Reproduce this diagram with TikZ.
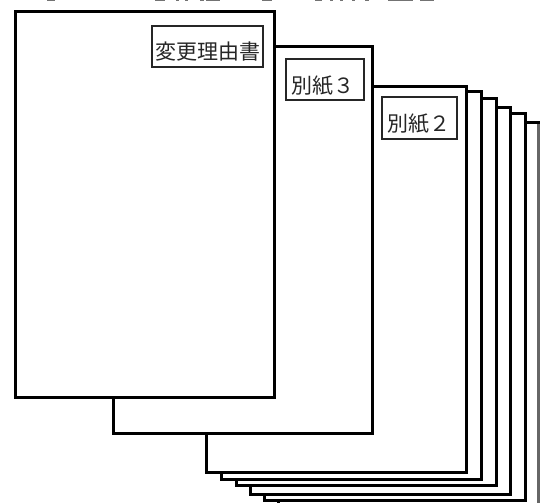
\documentclass[tikz,border=0pt]{standalone}
\usepackage{fontspec}
\newfontfamily\jpfont{Noto Sans CJK JP}[Scale=1]
\tikzset{
  sheet/.style={draw=black,fill=white,line width=3pt,line join=miter},
  tag/.style={draw=black!85,fill=white,line width=1.1pt,inner sep=0pt,outer sep=0pt,text=black!85,
    font=\jpfont\fontsize{21}{21}\selectfont,text height=34pt,text depth=7pt,anchor=north west,align=center},
  remnant/.style={fill=black!55,draw=none}
}
\begin{document}
\begin{tikzpicture}[x=1pt,y=-1pt]
\useasboundingbox (0,0) rectangle (544,503);
\clip (0,0) rectangle (544,503);
\fill[white] (0,0) rectangle (544,503);
% clipped line of text at the very top
\foreach \a/\b in {47/55,155/165,176/179,185/188,200/204,206/220,262/272,315/322,330/333,340/343,352/355,365/369,388/413,420/434}
  \fill[remnant] (\a,0) rectangle (\b,1.2);
% stacked sheets, back to front
\draw[sheet] (278,122) rectangle (538,512);
\draw[draw=black!60,line width=3pt] (538,124) -- (538,503);
\draw[sheet] (264.7,114) rectangle (525,500);
\draw[sheet] (250,107.7) rectangle (510,494);
\draw[sheet] (236.7,99) rectangle (496.7,485.7);
\draw[sheet] (221.7,92) rectangle (481.7,479);
\draw[sheet] (206.5,87) rectangle (466.5,472);
\draw[sheet] (113,47) rectangle (372,433);
\draw[sheet] (15,12) rectangle (274.5,397);
% labels
\node[tag,minimum width=111pt,minimum height=41pt] (riyu) at (152,26) {変更理由書};
\node[tag,minimum width=78pt,minimum height=41pt] (b3) at (286,59) {別紙３\hspace{4pt}};
\node[tag,minimum width=75pt,minimum height=42pt] (b2) at (382,97) {別紙２\hspace{2pt}};
\end{tikzpicture}
\end{document}
